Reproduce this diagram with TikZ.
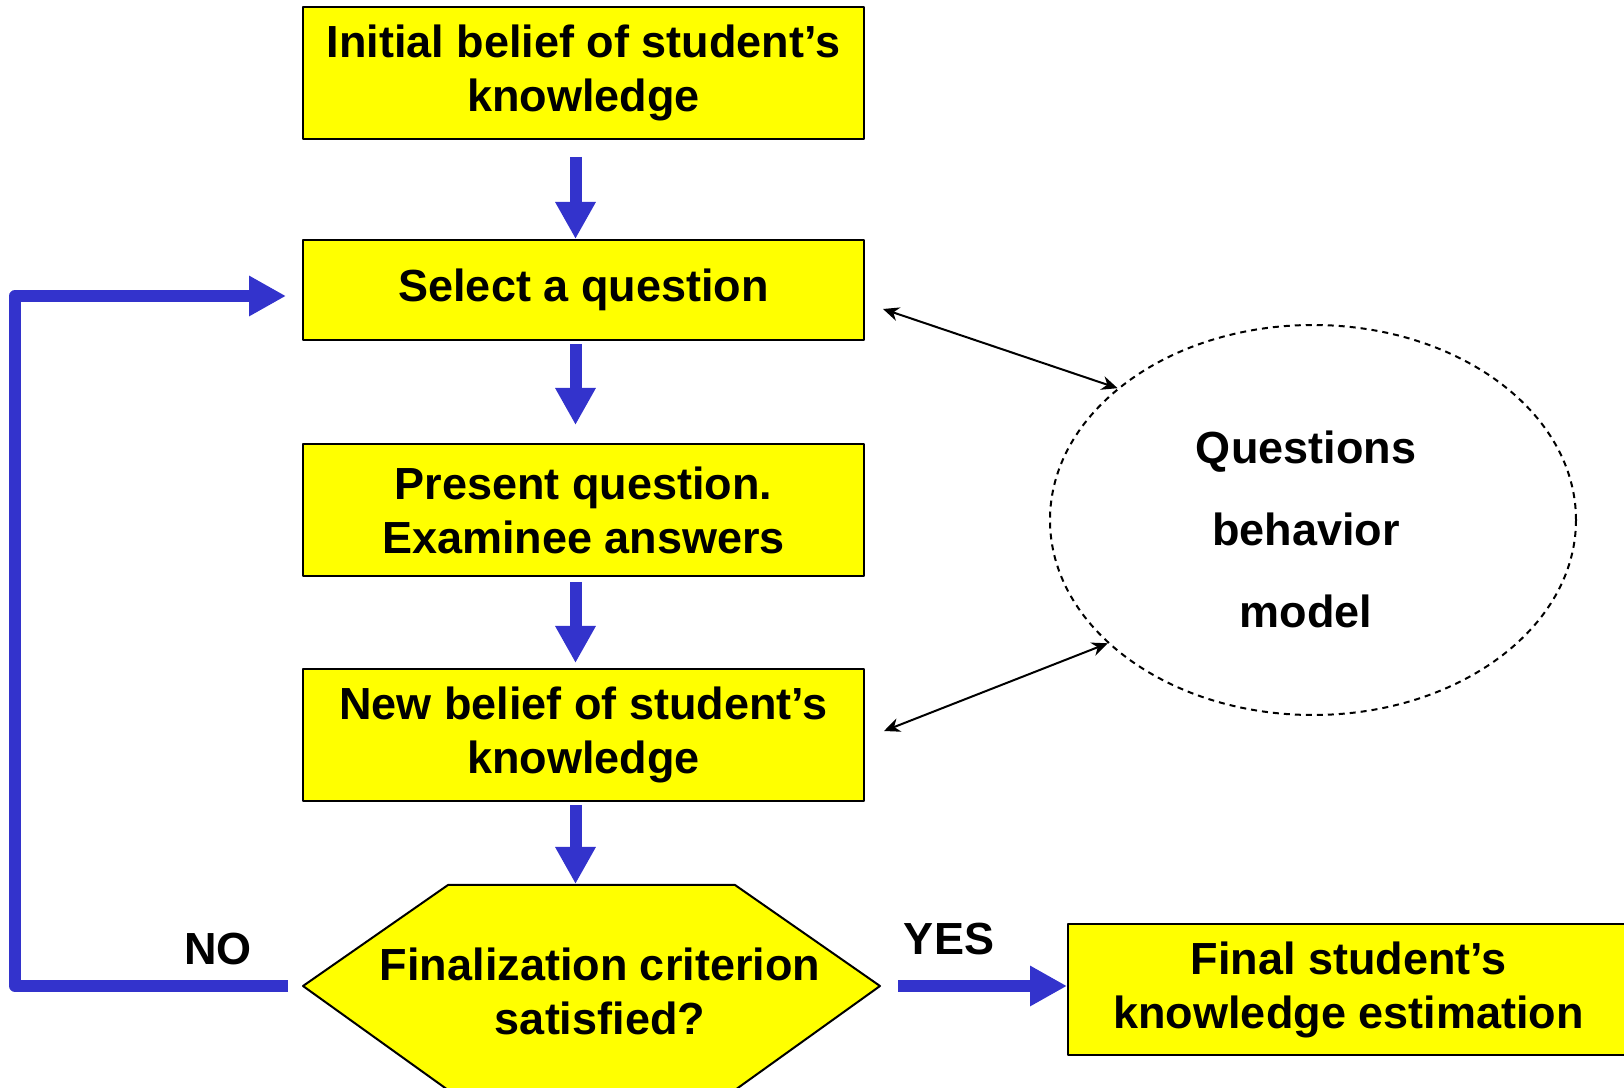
\documentclass[tikz,border=0pt]{standalone}
\usepackage{fontspec}
\setmainfont{Liberation Sans}
\usetikzlibrary{arrows.meta,shapes.geometric}
\definecolor{hopvang}{RGB}{255,255,0}
\definecolor{muiten}{RGB}{51,51,204}
\tikzset{
	hop/.style={draw=black,line width=1pt,fill=hopvang,minimum width=280.5pt,
		align=center,inner sep=0pt,font=\fontsize{22.5}{27}\selectfont\bfseries},
	luong/.style={draw=muiten,line width=6pt,line cap=butt,-{Triangle[length=18.5pt,width=19pt]}},
	noi/.style={draw=black,line width=1pt,
		{Stealth[length=8pt,width=7pt]}-{Stealth[length=8pt,width=7pt]}},
	nhan/.style={font=\fontsize{22.5}{27}\selectfont\bfseries}
}
\begin{document}
\begin{tikzpicture}[line cap=round,line join=round,x=0.5pt,y=0.5pt]
	\useasboundingbox (0,0) rectangle (1624,1088); %khung hinh
	\clip (0,0) rectangle (1624,1088); %cat khung
	% Cac hop vang
	\node[hop,minimum height=66pt] (b1) at (583.5,1015) {Initial belief of student’s\\knowledge};
	\node[hop,minimum height=50pt] (b2) at (583.5,798) {Select a question};
	\node[hop,minimum height=66pt] (b3) at (583.5,578) {Present question.\\Examinee answers};
	\node[hop,minimum height=66pt] (b4) at (583.5,353) {New belief of student’s\\knowledge};
	\node[hop,minimum height=65.5pt] (cuoi) at (1348.5,98.5) {Final student’s\\knowledge estimation};
	% Hinh luc giac
	\coordinate (trai) at (303,102);
	\coordinate (phai) at (880,102);
	\coordinate (dinh) at (575.5,203);
	\draw[line width=1pt,fill=hopvang] (trai) -- (448,203) -- (735,203) -- (phai)
		-- (735,-2) -- (448,-2) -- cycle;
	\node[nhan,align=center] (tc) at (600,97) {Finalization criterion\\satisfied?};
	% Elip mo hinh
	\node[draw=black,line width=1pt,line cap=butt,dash pattern=on 3pt off 2.5pt,ellipse,
		minimum width=263pt,minimum height=195pt,inner sep=0pt] (mohinh) at (1313,568) {};
	\node[align=center,font=\fontsize{22.5}{41}\selectfont\bfseries] (mohinhchu)
		at (1306,559) {Questions\\behavior\\model};
	% Mui ten xanh
	\draw[luong] ([xshift=-4pt,yshift=-8.5pt]b1.south) -- ([xshift=-4pt]b2.north);
	\draw[luong] ([xshift=-4pt,yshift=-1.5pt]b2.south) -- ([xshift=-4pt,yshift=9pt]b3.north);
	\draw[luong] ([xshift=-4pt,yshift=-2.5pt]b3.south) -- ([xshift=-4pt,yshift=2.5pt]b4.north);
	\draw[luong] ([xshift=-4pt,yshift=-1.5pt]b4.south) -- ([yshift=0.5pt]dinh);
	\coordinate (goc) at (15,500);
	\draw[luong] ([xshift=-7.5pt]trai) -| (goc) |- ([xshift=-8pt,yshift=-3pt]b2.west); %vong lai
	\draw[luong] ([xshift=9pt]phai) -- (phai -| cuoi.west);
	% Mui ten mo hinh
	\draw[noi] ([shift={(18,-19)}]b2.east) -- (mohinh.146.6);
	\draw[noi] ([shift={(19,4)}]b4.east) -- (mohinh.211.4);
	% Nhan
	\node[nhan] (no) at (218,139) {NO};
	\node[nhan] (yes) at (949,149) {YES};
\end{tikzpicture}
\end{document}
